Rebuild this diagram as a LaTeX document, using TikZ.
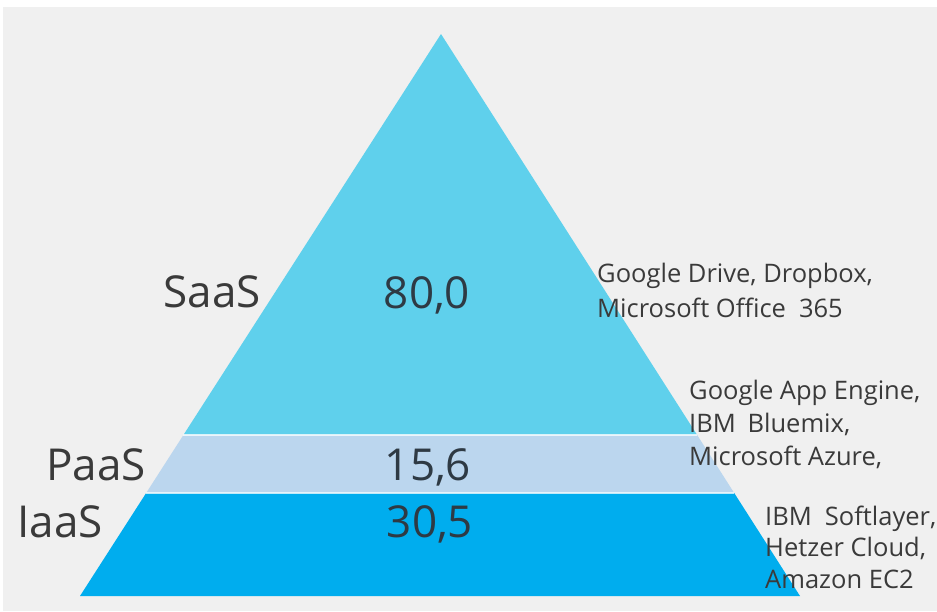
\documentclass[tikz,border=0pt]{standalone}
\usepackage{fontspec}
\setmainfont{Open Sans}
\usetikzlibrary{calc}
\definecolor{pagebg}{HTML}{F0F0F0}
\definecolor{saasc}{HTML}{5FD0EC}
\definecolor{paasc}{HTML}{BBD6EE}
\definecolor{iaasc}{HTML}{00ADEE}
\definecolor{txtc}{HTML}{3A3A3A}
\definecolor{valc}{HTML}{2E3A44}
\tikzset{
  layerlabel/.style={text=txtc, inner sep=0pt, font=\fontsize{44}{50}\selectfont},
  valuelabel/.style={text=valc, inner sep=0pt, font=\fontsize{44}{50}\selectfont},
  example/.style={text=txtc, inner sep=0pt, anchor=base west, font=\fontsize{25.5}{30}\selectfont},
  gapline/.style={draw=white, opacity=0.75, line width=1.6pt}
}
\begin{document}
\begin{tikzpicture}[x=1pt,y=-1pt]
  % page and background
  \fill[white] (0,0) rectangle (937,611);
  \fill[pagebg] (3,7) rectangle (937,611);
  \useasboundingbox (0,0) rectangle (937,611);

  % pyramid corners
  \coordinate (apex) at (441,34);
  \coordinate (bl) at (80,596);
  \coordinate (br) at (800,596);
  % band boundaries
  \coordinate (pl) at ($(apex)!0.7135!(bl)$);
  \coordinate (pr) at ($(apex)!0.7135!(br)$);
  \coordinate (il) at ($(apex)!0.8167!(bl)$);
  \coordinate (ir) at ($(apex)!0.8167!(br)$);

  % bands
  \fill[saasc] (apex) -- (pr) -- (pl) -- cycle;
  \fill[paasc] (pl) -- (pr) -- (ir) -- (il) -- cycle;
  \fill[iaasc] (il) -- (ir) -- (br) -- (bl) -- cycle;
  \draw[gapline] (pl) -- (pr);
  \draw[gapline] (il) -- (ir);

  % layer names
  \node[layerlabel] (saas) at (212,292) {SaaS};
  \node[layerlabel] (paas) at (96,465) {PaaS};
  \node[layerlabel] (iaas) at (60,522) {IaaS};

  % values
  \node[valuelabel] (v1) at (427,295) {80,0};
  \node[valuelabel] (v2) at (428,467) {15,6};
  \node[valuelabel] (v3) at (430,524) {30,5};

  % examples per layer
  \node[example] (s1) at (597,282) {Google Drive, Dropbox,};
  \node[example] (s2) at (597,317) {Microsoft Office\hspace{0.25em} 365};

  \node[example] (p1) at (689,399) {Google App Engine,};
  \node[example] (p2) at (689,432) {IBM\hspace{0.2em} Bluemix,};
  \node[example] (p3) at (689,465) {Microsoft Azure,};

  \node[example] (i1) at (765,525) {IBM\hspace{0.25em} Softlayer,};
  \node[example] (i2) at (765,556) {Hetzer Cloud,};
  \node[example] (i3) at (765,588) {Amazon EC2};
\end{tikzpicture}
\end{document}
